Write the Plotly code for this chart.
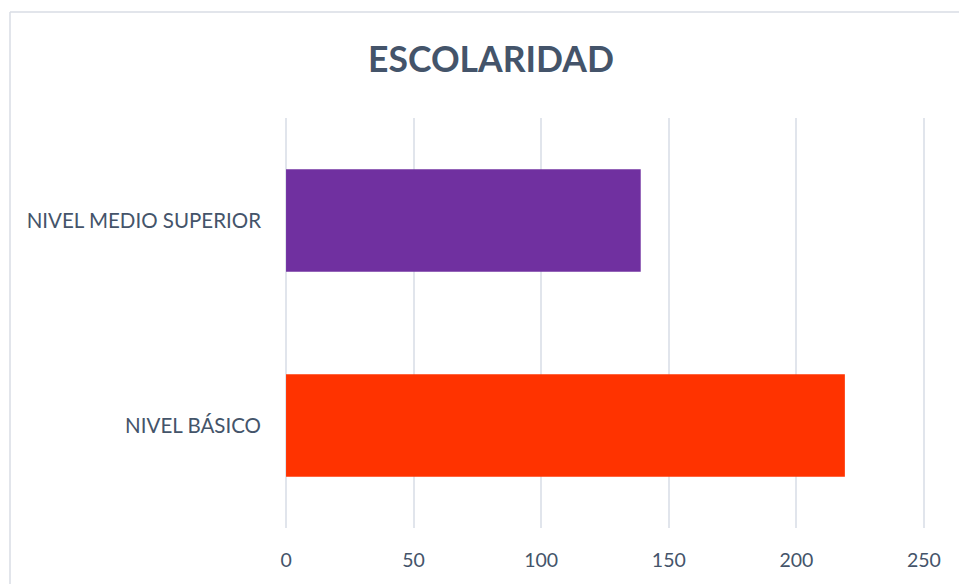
import plotly.graph_objects as go

# Escolaridad: número de personas por nivel educativo
categorias = ["NIVEL BÁSICO", "NIVEL MEDIO SUPERIOR"]
valores = [219, 139]
colores = ["#FF3300", "#7030A0"]
ticks_x = [0, 50, 100, 150, 200, 250]

TEXTO = "#44546A"
REJILLA = "#E1E5EC"
MARCO = "#D9DDE4"
FUENTE = "Lato"

# pequeño margen en el rango para que se dibujen las rejillas de 0 y 250
RANGO_X = [-0.8, 250.8]
M_IZQ, M_DER, M_SUP, M_INF = 284, 33, 118, 56
ANCHO, ALTO = 959, 584
ancho_plot = ANCHO - M_IZQ - M_DER
alto_plot = ALTO - M_SUP - M_INF

# posición del marco (borde izquierdo en x=10 px, superior en y=12 px)
marco_x = (10 - M_IZQ) / ancho_plot
marco_y = (ALTO - 12 - M_INF) / alto_plot

fig = go.Figure(
    go.Bar(
        y=categorias,
        x=valores,
        orientation="h",
        marker=dict(color=colores, line=dict(width=0)),
        hoverinfo="x+y",
    )
)

fig.update_layout(
    width=ANCHO,
    height=ALTO,
    margin=dict(l=M_IZQ, r=M_DER, t=M_SUP, b=M_INF),
    paper_bgcolor="white",
    plot_bgcolor="white",
    bargap=0.5,
    showlegend=False,
    font=dict(family=FUENTE, color=TEXTO),
    title=dict(
        text="<b>ESCOLARIDAD</b>",
        x=0.512,
        xanchor="center",
        y=1 - 60 / ALTO,
        yanchor="middle",
        yref="container",
        font=dict(family=FUENTE, size=35.5, color=TEXTO),
    ),
    shapes=[
        dict(type="line", xref="paper", yref="paper",
             x0=marco_x, x1=1.2, y0=marco_y, y1=marco_y,
             line=dict(color=MARCO, width=1.5)),
        dict(type="line", xref="paper", yref="paper",
             x0=marco_x, x1=marco_x, y0=marco_y, y1=-0.3,
             line=dict(color=MARCO, width=1.5)),
    ],
)

fig.update_xaxes(
    range=RANGO_X,
    tickvals=ticks_x,
    showgrid=True,
    gridcolor=REJILLA,
    gridwidth=1.5,
    zeroline=False,
    showline=False,
    ticks="",
    tickfont=dict(family=FUENTE, size=19.5, color=TEXTO),
    ticklabelstandoff=18,
    fixedrange=True,
)
fig.update_yaxes(
    categoryorder="array",
    categoryarray=categorias,
    showgrid=False,
    zeroline=False,
    showline=False,
    ticks="",
    tickfont=dict(family=FUENTE, size=20.5, color=TEXTO),
    ticklabelstandoff=22,
    fixedrange=True,
)

fig.write_html("out.html")
